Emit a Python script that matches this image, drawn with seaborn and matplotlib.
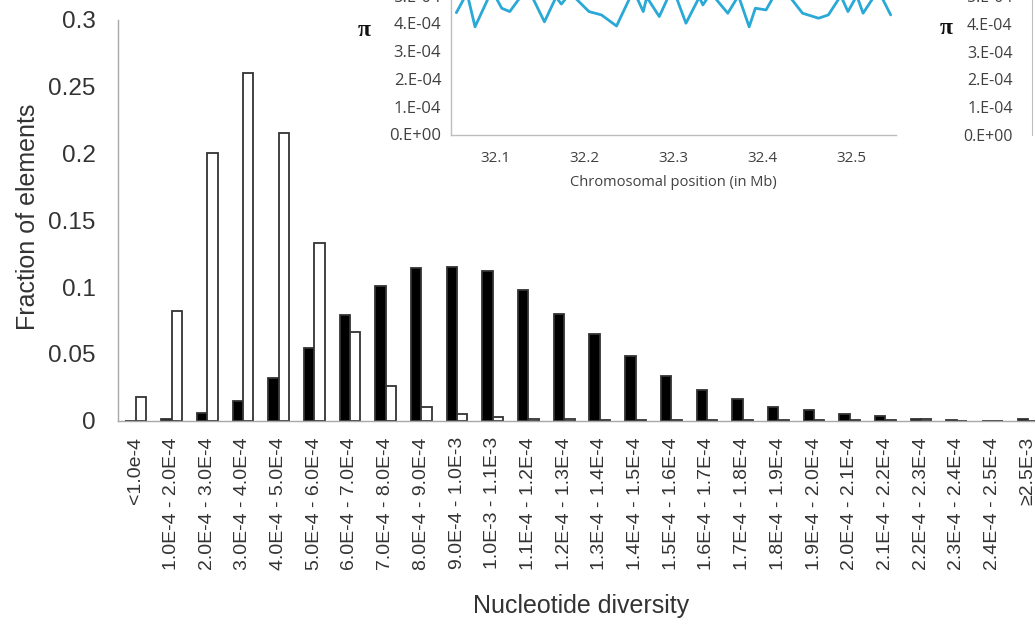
import numpy as np
import pandas as pd
import matplotlib
matplotlib.use("Agg")
import matplotlib.pyplot as plt
import seaborn as sns
from matplotlib.ticker import FuncFormatter

# ---------------- data ----------------
categories = [
    "<1.0e-4", "1.0E-4 - 2.0E-4", "2.0E-4 - 3.0E-4", "3.0E-4 - 4.0E-4",
    "4.0E-4 - 5.0E-4", "5.0E-4 - 6.0E-4", "6.0E-4 - 7.0E-4", "7.0E-4 - 8.0E-4",
    "8.0E-4 - 9.0E-4", "9.0E-4 - 1.0E-3", "1.0E-3 - 1.1E-3", "1.1E-4 - 1.2E-4",
    "1.2E-4 - 1.3E-4", "1.3E-4 - 1.4E-4", "1.4E-4 - 1.5E-4", "1.5E-4 - 1.6E-4",
    "1.6E-4 - 1.7E-4", "1.7E-4 - 1.8E-4", "1.8E-4 - 1.9E-4", "1.9E-4 - 2.0E-4",
    "2.0E-4 - 2.1E-4", "2.1E-4 - 2.2E-4", "2.2E-4 - 2.3E-4", "2.3E-4 - 2.4E-4",
    "2.4E-4 - 2.5E-4", "\u22652.5E-3",
]
black_values = [0.0, 0.001, 0.0055, 0.0148, 0.0316, 0.054, 0.0788, 0.1007,
                0.114, 0.1152, 0.1122, 0.098, 0.0798, 0.0648, 0.0483, 0.0335,
                0.0228, 0.0159, 0.0099, 0.0076, 0.0051, 0.0036, 0.0009, 0.0007,
                0.0, 0.0009]
white_values = [0.0178, 0.0822, 0.2001, 0.2605, 0.2156, 0.1327, 0.066, 0.0258,
                0.0103, 0.0046, 0.0025, 0.0012, 0.0008, 0.0006, 0.0006, 0.0005,
                0.0005, 0.0004, 0.0004, 0.0003, 0.0003, 0.0003, 0.0008, 0.0,
                0.0, 0.0]
y_ticks = [0, 0.05, 0.1, 0.15, 0.2, 0.25, 0.3]

# inset: nucleotide diversity along the chromosome
inset_pos_mb = [32.056, 32.068, 32.077, 32.096, 32.107, 32.116, 32.136, 32.155,
                32.168, 32.174, 32.184, 32.205, 32.219, 32.236, 32.255, 32.266,
                32.270, 32.284, 32.299, 32.314, 32.329, 32.333, 32.342, 32.361,
                32.373, 32.385, 32.392, 32.404, 32.420, 32.445, 32.463, 32.474,
                32.488, 32.496, 32.506, 32.513, 32.530, 32.544]
inset_pi = [4.39e-4, 5.1e-4, 3.88e-4, 5.2e-4, 4.55e-4, 4.43e-4, 5.3e-4, 4.06e-4,
            4.95e-4, 4.70e-4, 5.1e-4, 4.43e-4, 4.31e-4, 3.91e-4, 5.2e-4, 4.43e-4,
            4.95e-4, 4.25e-4, 5.3e-4, 4.01e-4, 4.95e-4, 4.67e-4, 5.1e-4, 4.37e-4,
            5.0e-4, 3.88e-4, 4.55e-4, 4.49e-4, 5.4e-4, 4.37e-4, 4.19e-4, 4.31e-4,
            5.0e-4, 4.43e-4, 5.0e-4, 4.37e-4, 5.2e-4, 4.31e-4]
inset_x_labels = [32.1, 32.2, 32.3, 32.4, 32.5]
inset_y_ticks = [0, 1e-4, 2e-4, 3e-4, 4e-4, 5e-4]

# ---------------- style ----------------
sns.set_style("white")
plt.rcParams["font.family"] = ["Liberation Sans", "DejaVu Sans"]

W, H = 1035, 620
fig = plt.figure(figsize=(W / 100, H / 100), dpi=100)
fig.patch.set_facecolor("white")

def fx(px):
    return px / W

def fy(py):
    return 1 - py / H

# ---------------- main bar chart ----------------
ax = fig.add_axes([fx(118), fy(420.5), 928 / W, 400.5 / H])
df = pd.DataFrame({
    "bin": categories * 2,
    "fraction": black_values + white_values,
    "group": ["a"] * len(categories) + ["b"] * len(categories),
})
sns.barplot(data=df, x="bin", y="fraction", hue="group", order=categories,
            hue_order=["a", "b"], palette=["black", "white"], width=0.58,
            edgecolor="#333333", linewidth=1.3, errorbar=None, legend=False,
            ax=ax)

ax.set_xlim(-0.5, len(categories) - 0.5)
ax.set_ylim(0, 0.3)
ax.set_xlabel("")
ax.set_ylabel("")
for s in ["top", "right"]:
    ax.spines[s].set_visible(False)
for s in ["left", "bottom"]:
    ax.spines[s].set_color("#a8a8a8")
    ax.spines[s].set_linewidth(1.0)

ax.set_yticks(y_ticks)
ax.yaxis.set_major_formatter(FuncFormatter(lambda v, p: f"{v:g}"))
ax.tick_params(axis="y", direction="out", length=5, width=1, color="#a8a8a8",
               pad=11, labelsize=17.5, labelcolor="#333333")

ax.set_xticks(range(len(categories)))
ax.set_xticklabels(categories, rotation=90, fontsize=14, color="#333333")
ax.set_xticks(np.arange(-0.5, len(categories), 1.0), minor=True)
ax.tick_params(axis="x", which="major", length=0, pad=12)
ax.tick_params(axis="x", which="minor", direction="out", length=5, width=1,
               color="#a8a8a8")

fig.text(fx(28), fy(217), "Fraction of elements", rotation=90, fontsize=18,
         ha="center", va="center", color="#333333")
fig.text(fx(581), fy(606), "Nucleotide diversity", fontsize=18,
         ha="center", va="center", color="#333333")

# ---------------- inset line chart ----------------
ifont = ["Open Sans", "DejaVu Sans"]
ax2 = fig.add_axes([fx(451), fy(134.5), 445 / W, 6 * 27.75 / H])
sns.lineplot(x=inset_pos_mb, y=inset_pi, ax=ax2, color="#2aa8d6",
             linewidth=2.0)
ax2.set_xlim(32.05, 32.55)
ax2.set_ylim(0, 6e-4)
for s in ["top", "right"]:
    ax2.spines[s].set_visible(False)
for s in ["left", "bottom"]:
    ax2.spines[s].set_color("#bdbdbd")
    ax2.spines[s].set_linewidth(1.0)
ax2.set_xticks(np.arange(32.05, 32.56, 0.1))
ax2.set_xticklabels([""] * 6)
ax2.set_xticks(inset_x_labels, minor=True)
ax2.set_xticklabels([f"{v:.1f}" for v in inset_x_labels], minor=True,
                    fontfamily=ifont, fontsize=11, color="#404040")
ax2.tick_params(axis="x", which="major", direction="out", length=5,
                color="#bdbdbd")
ax2.tick_params(axis="x", which="minor", length=0, pad=12)
ax2.set_yticks(inset_y_ticks)
ax2.set_yticklabels(["0.E+00"] + [f"{int(round(v * 1e4))}.E-04" for v in inset_y_ticks[1:]],
                    fontfamily=ifont, fontsize=12, color="#404040")
ax2.tick_params(axis="y", direction="out", length=5, color="#bdbdbd", pad=2)
fig.text(fx(673), fy(183), "Chromosomal position (in Mb)", fontfamily=ifont,
         fontsize=10.5, ha="center", va="center", color="#404040")
fig.text(fx(364), fy(30), "\u03c0", fontfamily=["Liberation Serif", "DejaVu Serif"],
         fontsize=17, fontweight="bold", ha="center", va="center", color="#111111")

# ---------------- second inset (cut at right edge) ----------------
ax3 = fig.add_axes([fx(1032), fy(135), 0.3, 6 * 27.8 / H])
ax3.set_facecolor("none")
ax3.set_ylim(0, 6e-4)
for s in ["top", "right", "bottom"]:
    ax3.spines[s].set_visible(False)
ax3.spines["left"].set_color("#bdbdbd")
ax3.set_xticks([])
ax3.set_yticks(inset_y_ticks)
ax3.set_yticklabels(["0.E+00"] + [f"{int(round(v * 1e4))}.E-04" for v in inset_y_ticks[1:]],
                    fontfamily=ifont, fontsize=11.5, color="#404040")
ax3.tick_params(axis="y", direction="out", length=5, color="#bdbdbd", pad=9)
fig.text(fx(946), fy(29), "\u03c0", fontfamily=["Liberation Serif", "DejaVu Serif"],
         fontsize=17, fontweight="bold", ha="center", va="center", color="#111111")

fig.savefig("out.png", dpi=100)
